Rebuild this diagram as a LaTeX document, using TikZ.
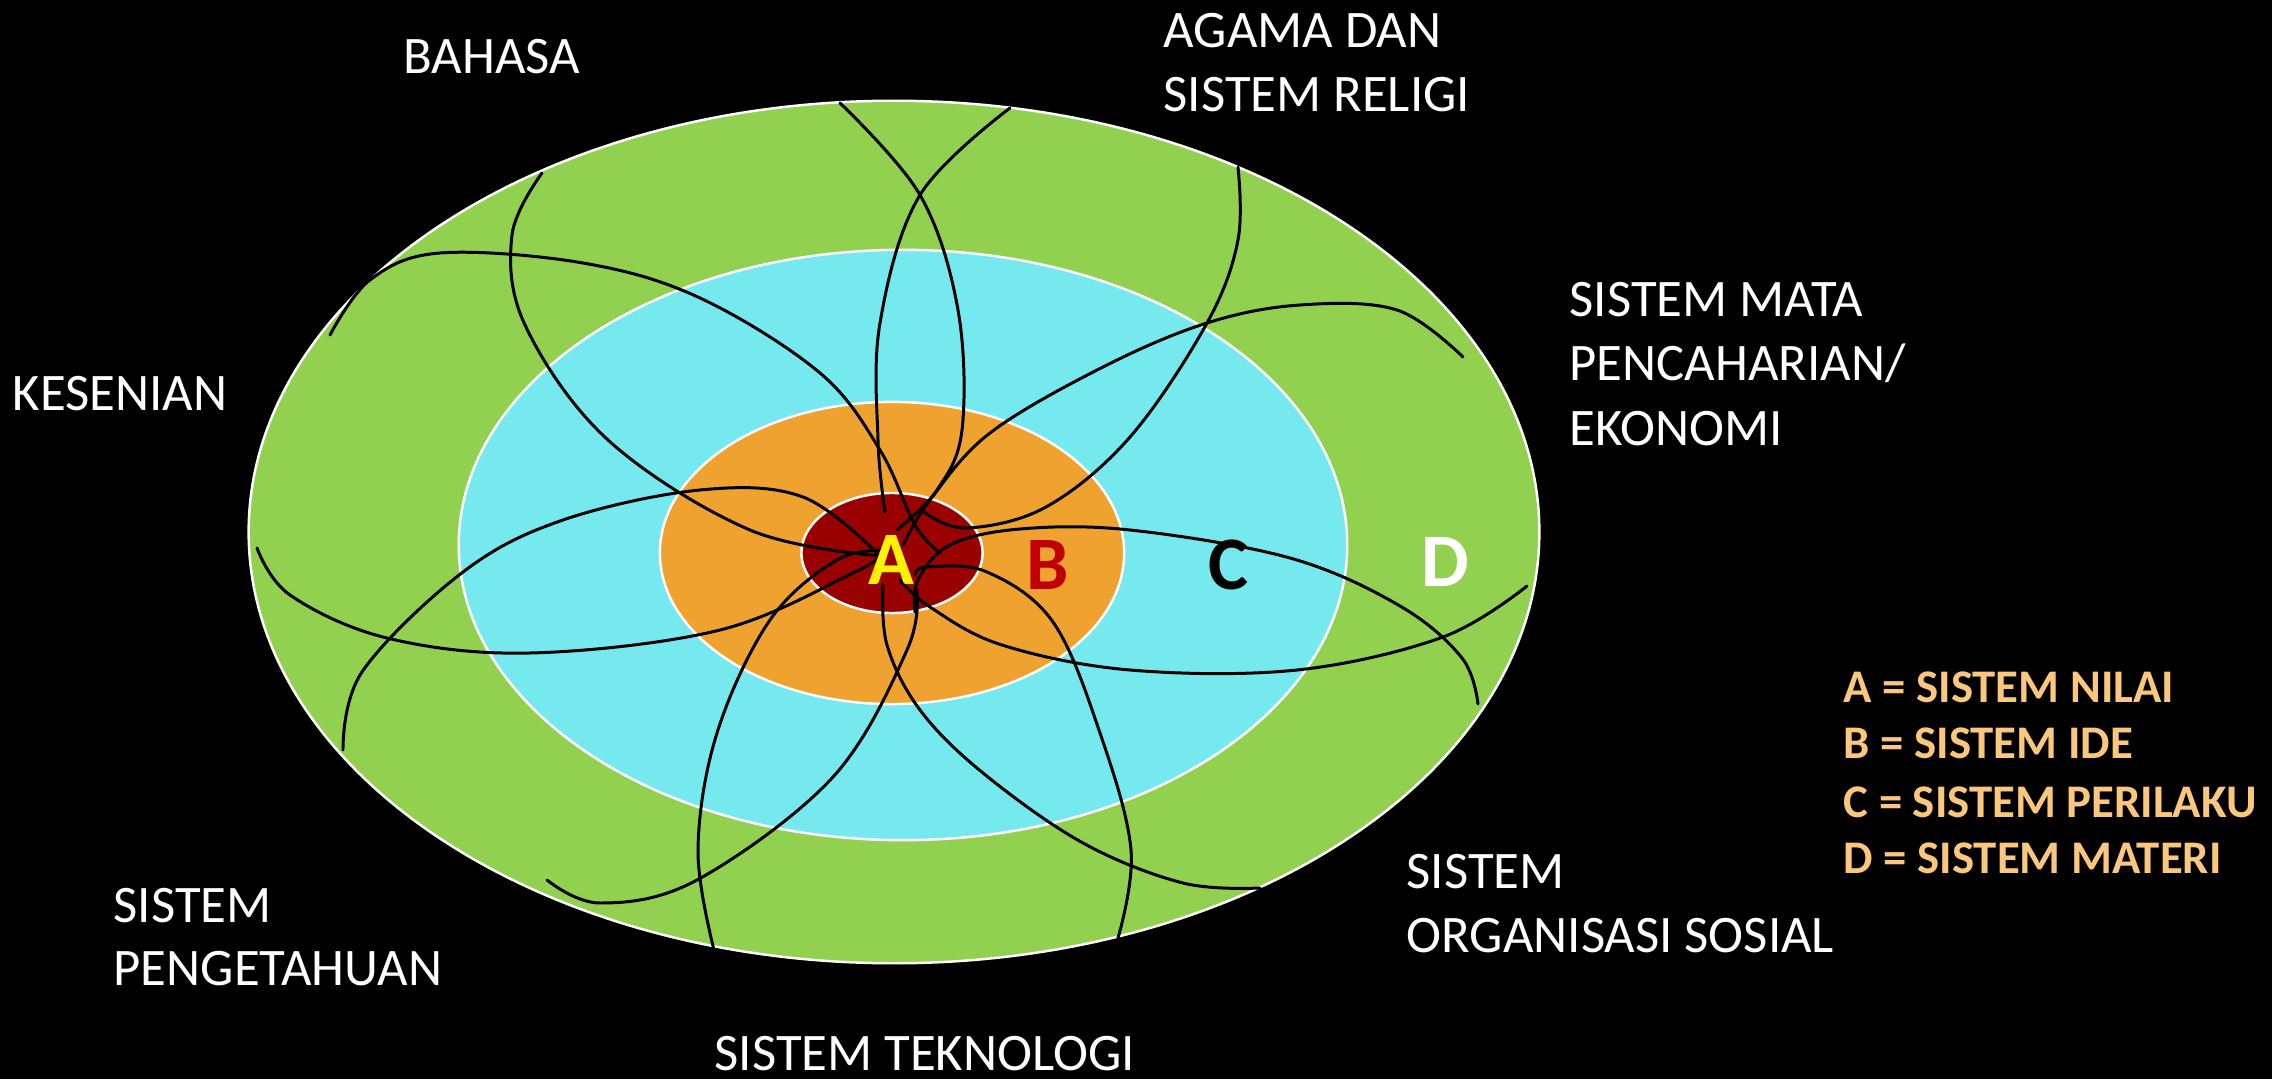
\documentclass[tikz,border=0pt]{standalone}
\usepackage{fontspec}
\setmainfont{Carlito}
\definecolor{grn}{RGB}{146,208,80}
\definecolor{cyn}{RGB}{118,233,239}
\definecolor{orng}{RGB}{239,162,48}
\definecolor{dred}{RGB}{153,0,0}
\definecolor{bred}{RGB}{192,0,0}
\definecolor{legc}{RGB}{250,199,125}
\begin{document}
\begin{tikzpicture}[x=0.01cm,y=-0.01cm,
  ring/.style={draw=white,line width=0.7pt},
  strand/.style={draw=black,line width=0.85pt,line cap=round},
  lab/.style={text=white,font=\fontsize{15}{18}\selectfont,anchor=base west,inner sep=0pt},
  leg/.style={text=legc,font=\bfseries\fontsize{13.3}{16}\selectfont,anchor=base west,inner sep=0pt},
  big/.style={font=\bfseries\fontsize{21.5}{25}\selectfont,inner sep=0pt,anchor=base}]
\fill[black] (0,0) rectangle (2272,1079);
\useasboundingbox (0,0) rectangle (2272,1079);
% rings
\path[ring,fill=grn] (894,532) ellipse [x radius=6.45cm, y radius=4.31cm];
\path[ring,fill=cyn] (903,545) ellipse [x radius=4.44cm, y radius=2.95cm];
\path[ring,fill=orng] (892,553) ellipse [x radius=2.32cm, y radius=1.51cm];
\path[ring,fill=dred] (892,553) ellipse [x radius=0.905cm, y radius=0.60cm];
% strands
\begin{scope}[smooth,tension=0.6]
\draw[strand] plot coordinates {(542,173) (512,235) (525,325) (608,440) (750,530) (880,556)};
\draw[strand] plot coordinates {(330,335) (370,280) (440,253) (583,263) (700,298) (820,373) (880,450) (915,525) (940,553)};
\draw[strand] plot coordinates {(840,103) (920,195) (958,310) (962,430) (937,490) (897,530)};
\draw[strand] plot coordinates {(1010,108) (920,195) (880,323) (878,440) (885,512)};
\draw[strand] plot coordinates {(1238,167) (1238,240) (1207,323) (1130,437) (1046,507) (966,528) (924,512)};
\draw[strand] plot coordinates {(1463,357) (1397,310) (1300,305) (1207,323) (1103,367) (990,433) (930,500) (903,545)};
\draw[strand] plot coordinates {(1478,704) (1462,658) (1400,606) (1290,558) (1130,530) (1020,529) (950,545) (918,580) (915,612)};
\draw[strand] plot coordinates {(1527,586) (1443,637) (1297,670) (1130,670) (1002,645) (930,607) (900,580)};
\draw[strand] plot coordinates {(1118,938) (1131,850) (1100,733) (1053,622) (987,572) (927,567) (915,575)};
\draw[strand] plot coordinates {(1260,888) (1183,883) (1083,843) (983,773) (920,710) (887,645) (883,585)};
\draw[strand] plot coordinates {(714,950) (698,850) (717,733) (770,620) (837,560) (888,550)};
\draw[strand] plot coordinates {(547,880) (600,903) (697,880) (833,777) (907,650) (917,590)};
\draw[strand] plot coordinates {(257,548) (290,595) (387,638) (530,653) (720,630) (853,573) (880,556)};
\draw[strand] plot coordinates {(343,750) (362,672) (463,572) (563,520) (700,490) (803,497) (880,556)};
\end{scope}
% ring letters
\node[big,text=yellow] (la) at (891,584) {A};
\node[big,text=bred] (lb) at (1048,589) {B};
\node[big,text=black] (lc) at (1228,589) {C};
\node[big,text=white] (ld) at (1445,586) {D};
% outer labels
\node[lab] (bahasa) at (403,74) {BAHASA};
\node[lab] (agama1) at (1163,48) {AGAMA DAN};
\node[lab] (agama2) at (1163,112) {SISTEM RELIGI};
\node[lab] (eko1) at (1569,317) {SISTEM MATA};
\node[lab] (eko2) at (1569,380) {PENCAHARIAN/};
\node[lab] (eko3) at (1569,445) {EKONOMI};
\node[lab] (kesenian) at (12,410) {KESENIAN};
\node[lab] (peng1) at (113,922) {SISTEM};
\node[lab] (peng2) at (113,985) {PENGETAHUAN};
\node[lab] (tekno) at (714,1070) {SISTEM TEKNOLOGI};
\node[lab] (org1) at (1406,888) {SISTEM};
\node[lab] (org2) at (1406,952) {ORGANISASI SOSIAL};
% legend
\node[leg] (lega) at (1843,702) {A = SISTEM NILAI};
\node[leg] (legb) at (1843,758) {B = SISTEM IDE};
\node[leg] (legcc) at (1843,817) {C = SISTEM PERILAKU};
\node[leg] (legd) at (1843,873) {D = SISTEM MATERI};
\end{tikzpicture}
\end{document}
